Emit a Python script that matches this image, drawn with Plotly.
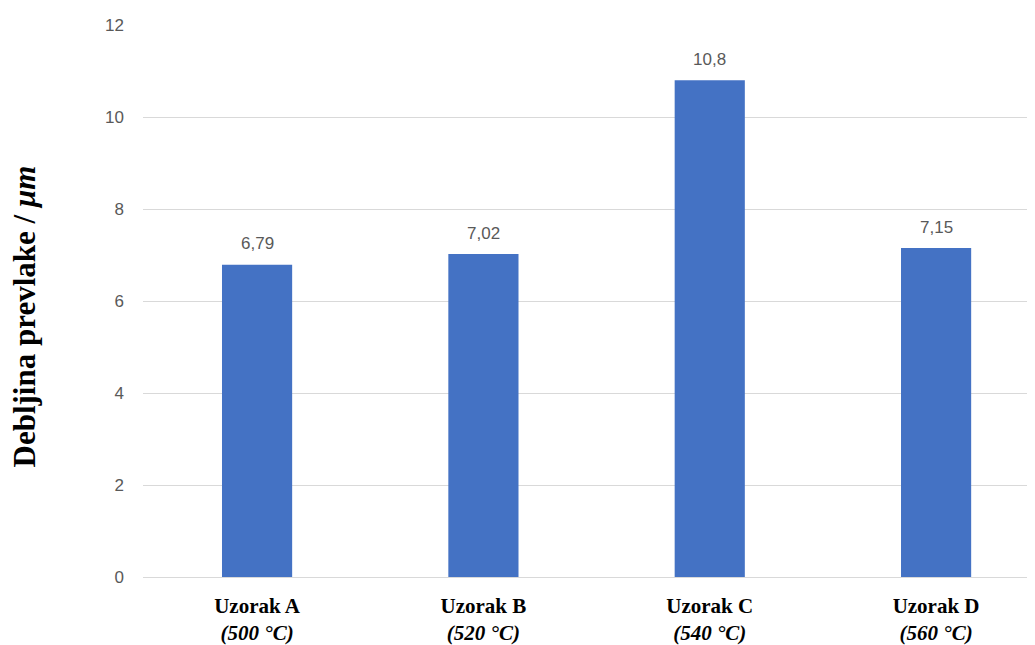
import plotly.graph_objects as go

samples = ["Uzorak A", "Uzorak B", "Uzorak C", "Uzorak D"]
temps = ["(500 °C)", "(520 °C)", "(540 °C)", "(560 °C)"]
values = [6.79, 7.02, 10.8, 7.15]
value_labels = ["6,79", "7,02", "10,8", "7,15"]
y_ticks = [0, 2, 4, 6, 8, 10, 12]

cats = [f"<b>{s}</b><br><b><i>{t}</i></b>" for s, t in zip(samples, temps)]

L, R, T, B = 135, 8, 15, 76
PW = 1035 - L - R

fig = go.Figure()
fig.add_trace(go.Bar(
    x=list(range(len(cats))), y=values, width=0.31,
    marker=dict(color="#4472C4", line=dict(width=0)),
    hoverinfo="skip",
))
for i, (v, lab) in enumerate(zip(values, value_labels)):
    fig.add_annotation(x=i, y=v, text=lab, showarrow=False, yshift=21,
                       font=dict(family="Liberation Sans", size=17, color="#595959"))

fig.add_annotation(xref="paper", yref="paper", x=(16 - L) / PW, y=0.472,
                   text="<b>Debljina prevlake / </b><b><i>μm</i></b>", textangle=-90,
                   showarrow=False, xanchor="center", yanchor="middle",
                   font=dict(family="Liberation Serif", size=31, color="black"))

fig.update_layout(
    width=1035, height=645,
    margin=dict(l=L, r=R, t=T, b=B),
    paper_bgcolor="white", plot_bgcolor="white",
    showlegend=False,
    xaxis=dict(
        tickmode="array", tickvals=list(range(len(cats))), ticktext=cats,
        range=[-0.504, 3.437], showgrid=False, zeroline=False, showline=False,
        tickfont=dict(family="Liberation Serif", size=21, color="black"),
        ticks="", ticklabelstandoff=14,
    ),
    yaxis=dict(
        range=[0, 12], tickvals=y_ticks, showgrid=True, gridcolor="#d9d9d9",
        gridwidth=1, zeroline=True, zerolinecolor="#d9d9d9", zerolinewidth=1,
        showline=False, ticks="", ticklabelstandoff=18,
        tickfont=dict(family="Liberation Sans", size=17, color="#595959"),
    ),
)

fig.write_html("out.html")
